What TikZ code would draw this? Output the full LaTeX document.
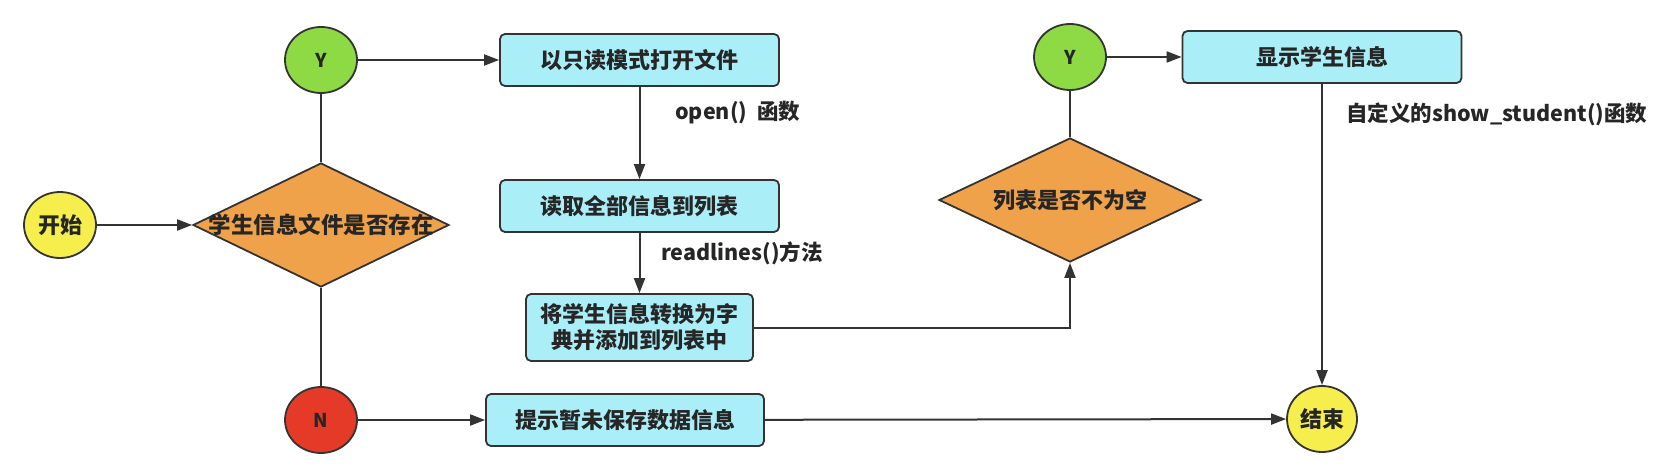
\documentclass[tikz,border=0pt]{standalone}
\usepackage{fontspec}
\setmainfont{Noto Sans CJK SC}
\usetikzlibrary{shapes.geometric,arrows.meta}
\definecolor{linec}{HTML}{333333}
\definecolor{textc}{HTML}{262626}
\definecolor{yelc}{HTML}{F6EE4C}
\definecolor{grnc}{HTML}{8EDA44}
\definecolor{redc}{HTML}{E53A27}
\definecolor{orgc}{HTML}{F0A24A}
\definecolor{boxc}{HTML}{AAEEF8}
\begin{document}
\begin{tikzpicture}[x=1pt,y=-1pt,
  every node/.style={text=textc},
  ln/.style={draw=linec, line width=2pt},
  arr/.style={ln, -{Triangle[length=15pt,width=11pt]}},
  term/.style={ellipse, draw=linec, line width=1.8pt, minimum width=72pt, minimum height=66pt, inner sep=0pt, font=\bfseries\fontsize{22}{26}\selectfont},
  proc/.style={rectangle, draw=linec, line width=1.8pt, fill=boxc, rounded corners=5pt, inner sep=0pt, align=center, font=\bfseries\fontsize{22}{26}\selectfont},
  dec/.style={diamond, draw=linec, line width=1.8pt, fill=orgc, inner sep=0pt},
  lab/.style={anchor=west, inner sep=0pt, font=\bfseries\fontsize{21.5}{25}\selectfont}
]
\useasboundingbox[fill=white] (0,0) rectangle (1659,476);

\node[term, fill=yelc] (start) at (60,225) {开始};
\node[dec, minimum width=256pt, minimum height=124pt, label={[font=\bfseries\fontsize{22.5}{26}\selectfont, text=textc]center:学生信息文件是否存在}] (d1) at (321,225) {};
\node[term, fill=grnc, font=\bfseries\fontsize{19}{22}\selectfont] (y1) at (321,60) {Y};
\node[term, fill=redc, font=\bfseries\fontsize{19}{22}\selectfont] (n) at (321,420) {N};

\node[proc, minimum width=279pt, minimum height=52pt] (b1) at (639.5,60) {以只读模式打开文件};
\node[proc, minimum width=279pt, minimum height=52pt] (b2) at (639.5,206) {读取全部信息到列表};
\node[proc, minimum width=227pt, minimum height=67pt] (b3) at (639.5,327.5) {将学生信息转换为字\\典并添加到列表中};
\node[proc, minimum width=278pt, minimum height=52pt] (b4) at (625,420) {提示暂未保存数据信息};

\node[dec, minimum width=262pt, minimum height=124pt, label={[font=\bfseries\fontsize{22}{26}\selectfont, text=textc]center:列表是否不为空}] (d2) at (1070,200) {};
\node[term, fill=grnc, font=\bfseries\fontsize{19}{22}\selectfont] (y2) at (1070,57) {Y};
\node[proc, minimum width=279pt, minimum height=52pt] (b5) at (1322,57) {显示学生信息};
\node[term, fill=yelc, minimum width=70pt] (end) at (1322,419) {结束};

\node[lab] (l1) at (675,113) {open()\ \ 函数};
\node[lab] (l2) at (661,253) {readlines()方法};
\node[lab] (l3) at (1346,114) {自定义的show\_student()函数};

\draw[arr] (start) -- (d1.west);
\draw[ln] (d1.north) -- (y1);
\draw[ln] (d1.south) -- (n);
\draw[arr] (y1) -- (b1);
\draw[arr] (b1) -- (b2);
\draw[arr] (b2) -- (b3);
\draw[arr] (b3.east) -| (d2.south);
\draw[ln] (d2.north) -- (y2);
\draw[arr] (y2) -- (b5);
\draw[arr] (b5) -- (end);
\draw[arr] (n) -- (b4);
\draw[arr] (b4) -- (end);
\end{tikzpicture}
\end{document}
